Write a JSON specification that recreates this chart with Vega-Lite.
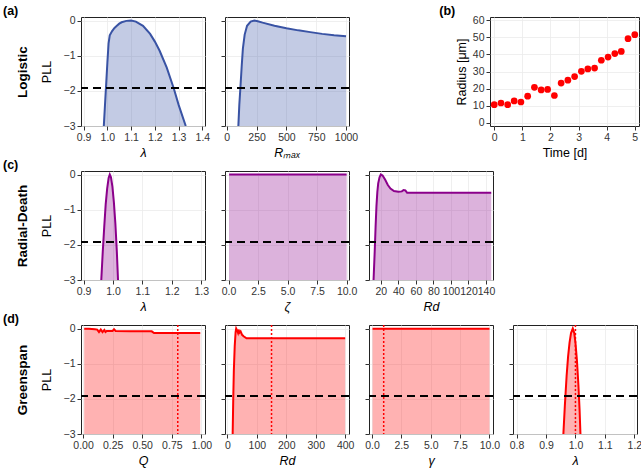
{
  "$schema": "https://vega.github.io/schema/vega-lite/v6.json",
  "padding": {"left": 2, "top": 4, "right": 2, "bottom": 2},
  "background": "white",
  "spacing": -2,
  "config": {
    "font": "Liberation Sans",
    "view": {"stroke": "#222", "strokeWidth": 1},
    "axis": {"domain": false, "tickColor": "#333", "tickSize": 4, "labelColor": "#333", "labelFontSize": 10.5, "labelFont": "Liberation Sans", "titleFont": "Liberation Sans", "titleFontSize": 12.5, "titleFontWeight": "normal", "titleColor": "#000", "gridColor": "#ebebeb", "gridWidth": 0.8, "labelPadding": 2, "titlePadding": 4, "labelOverlap": false, "labelFlush": false, "labelBound": false},
    "axisX": {"labelOverlap": false},
    "title": {"font": "Liberation Sans", "fontSize": 12.5, "fontWeight": "bold", "anchor": "start", "frame": "bounds", "offset": -2}
  },
  "vconcat": [
    {
      "bounds": "flush",
      "spacing": 20,
      "hconcat": [
        {
          "width": 124, "height": 109,
          "title": {"text": "(a)", "dx": -12},
          "data": {"values": [
            {"x": 0.985, "y": -3}, {"x": 0.99, "y": -2.4}, {"x": 0.995, "y": -1.8}, {"x": 1.0, "y": -1.2}, {"x": 1.005, "y": -0.65}, {"x": 1.01, "y": -0.42}, {"x": 1.02, "y": -0.3}, {"x": 1.03, "y": -0.21}, {"x": 1.04, "y": -0.15}, {"x": 1.05, "y": -0.09}, {"x": 1.06, "y": -0.05}, {"x": 1.08, "y": -0.01}, {"x": 1.1, "y": 0}, {"x": 1.12, "y": -0.03}, {"x": 1.15, "y": -0.15}, {"x": 1.18, "y": -0.38}, {"x": 1.2, "y": -0.6}, {"x": 1.22, "y": -0.86}, {"x": 1.25, "y": -1.34}, {"x": 1.28, "y": -1.94}, {"x": 1.3, "y": -2.4}, {"x": 1.33, "y": -3.0}
          ]},
          "layer": [
            {"mark": {"type": "area", "color": "#3953a4", "opacity": 0.3, "clip": true},
             "encoding": {
               "x": {"field": "x", "type": "quantitative", "scale": {"domain": [0.889, 1.411], "nice": false, "zero": false}, "axis": {"values": [0.9, 1.0, 1.1, 1.2, 1.3, 1.4], "format": ".1f", "labelOverlap": false, "title": "λ", "titleFontStyle": "italic"}},
               "y": {"field": "y", "type": "quantitative", "scale": {"domain": [-3, 0.1], "nice": false, "zero": false}, "axis": {"values": [-3, -2, -1, 0], "title": "PLL", "titlePadding": 10}},
               "y2": {"datum": -3}}},
            {"mark": {"type": "line", "color": "#3953a4", "strokeWidth": 2, "clip": true},
             "encoding": {"x": {"field": "x", "type": "quantitative", "axis": {"values": [0.9, 1.0, 1.1, 1.2, 1.3, 1.4], "format": ".1f", "labelOverlap": false, "title": "λ", "titleFontStyle": "italic"}}, "y": {"field": "y", "type": "quantitative", "axis": null}}},
            {"data": {"values": [{}]}, "mark": {"type": "rule", "color": "black", "strokeWidth": 2, "strokeDash": [8, 5]},
             "encoding": {"y": {"datum": -1.92, "axis": {"orient": "left", "labels": false, "ticks": false, "grid": false, "title": "Logistic", "titleFontWeight": "bold", "titleFontSize": 13.5, "titlePadding": 52}}}}
          ],
          "resolve": {"axis": {"y": "independent"}}
        },
        {
          "width": 124, "height": 109,
          "data": {"values": [
            {"x": 97, "y": -3}, {"x": 105, "y": -2.4}, {"x": 114, "y": -1.92}, {"x": 125, "y": -1.3}, {"x": 135, "y": -0.8}, {"x": 150, "y": -0.4}, {"x": 170, "y": -0.15}, {"x": 200, "y": -0.03}, {"x": 231, "y": 0}, {"x": 260, "y": -0.02}, {"x": 300, "y": -0.06}, {"x": 400, "y": -0.15}, {"x": 500, "y": -0.22}, {"x": 600, "y": -0.28}, {"x": 700, "y": -0.33}, {"x": 800, "y": -0.38}, {"x": 900, "y": -0.42}, {"x": 1000, "y": -0.45}
          ]},
          "layer": [
            {"mark": {"type": "area", "color": "#3953a4", "opacity": 0.3, "clip": true},
             "encoding": {
               "x": {"field": "x", "type": "quantitative", "scale": {"domain": [-15, 1025], "nice": false, "zero": false}, "axis": {"values": [0, 250, 500, 750, 1000], "format": "d", "labelOverlap": false, "title": "Rₘₐₓ", "titleFontStyle": "italic"}},
               "y": {"field": "y", "type": "quantitative", "scale": {"domain": [-3, 0.1], "nice": false, "zero": false}, "axis": {"values": [-3, -2, -1, 0], "labels": false, "title": null}},
               "y2": {"datum": -3}}},
            {"mark": {"type": "line", "color": "#3953a4", "strokeWidth": 2, "clip": true},
             "encoding": {"x": {"field": "x", "type": "quantitative", "axis": {"values": [0, 250, 500, 750, 1000], "format": "d", "labelOverlap": false, "title": "Rₘₐₓ", "titleFontStyle": "italic"}}, "y": {"field": "y", "type": "quantitative", "axis": null}}},
            {"data": {"values": [{}]}, "mark": {"type": "rule", "color": "black", "strokeWidth": 2, "strokeDash": [8, 5]},
             "encoding": {"y": {"datum": -1.92, "axis": null}}}
          ],
          "resolve": {"axis": {"y": "independent"}}
        },
        {
          "width": 101, "height": 109,
          "view": {"stroke": null},
          "data": {"values": [{}]},
          "mark": {"type": "point", "opacity": 0}
        },
        {
          "width": 149, "height": 109,
          "title": {"text": "(b)", "dx": -16},
          "data": {"values": [
            {"time": 0, "radius": 10.5}, {"time": 0.24, "radius": 11.5}, {"time": 0.48, "radius": 10.5}, {"time": 0.71, "radius": 12.7}, {"time": 0.95, "radius": 12.1}, {"time": 1.19, "radius": 15.5}, {"time": 1.43, "radius": 20.7}, {"time": 1.67, "radius": 19.2}, {"time": 1.9, "radius": 19.5}, {"time": 2.14, "radius": 15.9}, {"time": 2.38, "radius": 23.2}, {"time": 2.62, "radius": 24.9}, {"time": 2.86, "radius": 27.0}, {"time": 3.1, "radius": 30.1}, {"time": 3.33, "radius": 31.5}, {"time": 3.57, "radius": 32.0}, {"time": 3.81, "radius": 36.6}, {"time": 4.05, "radius": 38.5}, {"time": 4.29, "radius": 40.5}, {"time": 4.52, "radius": 41.8}, {"time": 4.76, "radius": 49.3}, {"time": 5.0, "radius": 51.6}
          ]},
          "mark": {"type": "circle", "color": "#ff0000", "size": 45, "opacity": 1},
          "encoding": {
            "x": {"field": "time", "type": "quantitative", "scale": {"domain": [-0.15, 5.15], "nice": false, "zero": false}, "axis": {"values": [0, 1, 2, 3, 4, 5], "title": "Time [d]"}},
            "y": {"field": "radius", "type": "quantitative", "scale": {"domain": [-2, 62], "nice": false, "zero": false}, "axis": {"values": [0, 10, 20, 30, 40, 50, 60], "title": "Radius [μm]"}}
          }
        }
      ]
    },
    {
      "bounds": "flush",
      "spacing": 20,
      "hconcat": [
        {
          "width": 124, "height": 109,
          "title": {"text": "(c)", "dx": -12},
          "data": {"values": [
            {"x": 0.96, "y": -3}, {"x": 0.965, "y": -2.2}, {"x": 0.97, "y": -1.5}, {"x": 0.975, "y": -0.85}, {"x": 0.98, "y": -0.4}, {"x": 0.985, "y": -0.1}, {"x": 0.989, "y": 0}, {"x": 0.993, "y": -0.08}, {"x": 0.998, "y": -0.35}, {"x": 1.003, "y": -0.8}, {"x": 1.008, "y": -1.4}, {"x": 1.013, "y": -2.2}, {"x": 1.017, "y": -3}
          ]},
          "layer": [
            {"mark": {"type": "area", "color": "#8b008b", "opacity": 0.3, "clip": true},
             "encoding": {
               "x": {"field": "x", "type": "quantitative", "scale": {"domain": [0.891, 1.313], "nice": false, "zero": false}, "axis": {"values": [0.9, 1.0, 1.1, 1.2, 1.3], "format": ".1f", "labelOverlap": false, "title": "λ", "titleFontStyle": "italic"}},
               "y": {"field": "y", "type": "quantitative", "scale": {"domain": [-3, 0.1], "nice": false, "zero": false}, "axis": {"values": [-3, -2, -1, 0], "title": "PLL", "titlePadding": 10}},
               "y2": {"datum": -3}}},
            {"mark": {"type": "line", "color": "#8b008b", "strokeWidth": 2, "clip": true},
             "encoding": {"x": {"field": "x", "type": "quantitative", "axis": {"values": [0.9, 1.0, 1.1, 1.2, 1.3], "format": ".1f", "labelOverlap": false, "title": "λ", "titleFontStyle": "italic"}}, "y": {"field": "y", "type": "quantitative", "axis": null}}},
            {"data": {"values": [{}]}, "mark": {"type": "rule", "color": "black", "strokeWidth": 2, "strokeDash": [8, 5]},
             "encoding": {"y": {"datum": -1.92, "axis": {"orient": "left", "labels": false, "ticks": false, "grid": false, "title": "Radial-Death", "titleFontWeight": "bold", "titleFontSize": 13.5, "titlePadding": 52}}}}
          ],
          "resolve": {"axis": {"y": "independent"}}
        },
        {
          "width": 124, "height": 109,
          "data": {"values": [{"x": 0.05, "y": 0}, {"x": 10, "y": 0}]},
          "layer": [
            {"mark": {"type": "area", "color": "#8b008b", "opacity": 0.3, "clip": true},
             "encoding": {
               "x": {"field": "x", "type": "quantitative", "scale": {"domain": [-0.3, 10.2], "nice": false, "zero": false}, "axis": {"values": [0, 2.5, 5, 7.5, 10], "format": ".1f", "labelOverlap": false, "title": "ζ", "titleFontStyle": "italic"}},
               "y": {"field": "y", "type": "quantitative", "scale": {"domain": [-3, 0.1], "nice": false, "zero": false}, "axis": {"values": [-3, -2, -1, 0], "labels": false, "title": null}},
               "y2": {"datum": -3}}},
            {"mark": {"type": "line", "color": "#8b008b", "strokeWidth": 2, "clip": true},
             "encoding": {"x": {"field": "x", "type": "quantitative", "axis": {"values": [0, 2.5, 5, 7.5, 10], "format": ".1f", "labelOverlap": false, "title": "ζ", "titleFontStyle": "italic"}}, "y": {"field": "y", "type": "quantitative", "axis": null}}},
            {"data": {"values": [{}]}, "mark": {"type": "rule", "color": "black", "strokeWidth": 2, "strokeDash": [8, 5]},
             "encoding": {"y": {"datum": -1.92, "axis": null}}}
          ],
          "resolve": {"axis": {"y": "independent"}}
        },
        {
          "width": 124, "height": 109,
          "data": {"values": [
            {"x": 11.7, "y": -3}, {"x": 13, "y": -2.2}, {"x": 14, "y": -1.5}, {"x": 15, "y": -0.9}, {"x": 16, "y": -0.5}, {"x": 17, "y": -0.25}, {"x": 18.5, "y": -0.08}, {"x": 20, "y": 0}, {"x": 22, "y": -0.03}, {"x": 25, "y": -0.15}, {"x": 28, "y": -0.3}, {"x": 31, "y": -0.4}, {"x": 35, "y": -0.47}, {"x": 40, "y": -0.49}, {"x": 44, "y": -0.48}, {"x": 46, "y": -0.44}, {"x": 48, "y": -0.45}, {"x": 50, "y": -0.52}, {"x": 80, "y": -0.52}, {"x": 120, "y": -0.52}, {"x": 146, "y": -0.52}
          ]},
          "layer": [
            {"mark": {"type": "area", "color": "#8b008b", "opacity": 0.3, "clip": true},
             "encoding": {
               "x": {"field": "x", "type": "quantitative", "scale": {"domain": [6.5, 148], "nice": false, "zero": false}, "axis": {"values": [20, 40, 60, 80, 100, 120, 140], "labelOverlap": false, "title": "Rd", "titleFontStyle": "italic"}},
               "y": {"field": "y", "type": "quantitative", "scale": {"domain": [-3, 0.1], "nice": false, "zero": false}, "axis": {"values": [-3, -2, -1, 0], "labels": false, "title": null}},
               "y2": {"datum": -3}}},
            {"mark": {"type": "line", "color": "#8b008b", "strokeWidth": 2, "clip": true},
             "encoding": {"x": {"field": "x", "type": "quantitative", "axis": {"values": [20, 40, 60, 80, 100, 120, 140], "labelOverlap": false, "title": "Rd", "titleFontStyle": "italic"}}, "y": {"field": "y", "type": "quantitative", "axis": null}}},
            {"data": {"values": [{}]}, "mark": {"type": "rule", "color": "black", "strokeWidth": 2, "strokeDash": [8, 5]},
             "encoding": {"y": {"datum": -1.92, "axis": null}}}
          ],
          "resolve": {"axis": {"y": "independent"}}
        }
      ]
    },
    {
      "bounds": "flush",
      "spacing": 20,
      "hconcat": [
        {
          "width": 124, "height": 109,
          "title": {"text": "(d)", "dx": -12},
          "data": {"values": [
            {"x": 0.01, "y": -0.01}, {"x": 0.05, "y": -0.01}, {"x": 0.1, "y": -0.02}, {"x": 0.12, "y": -0.03}, {"x": 0.135, "y": -0.1}, {"x": 0.15, "y": -0.03}, {"x": 0.165, "y": -0.1}, {"x": 0.18, "y": -0.04}, {"x": 0.19, "y": -0.1}, {"x": 0.2, "y": -0.07}, {"x": 0.25, "y": -0.07}, {"x": 0.262, "y": -0.02}, {"x": 0.275, "y": -0.07}, {"x": 0.4, "y": -0.08}, {"x": 0.58, "y": -0.08}, {"x": 0.6, "y": -0.13}, {"x": 0.8, "y": -0.13}, {"x": 0.99, "y": -0.13}
          ]},
          "layer": [
            {"mark": {"type": "area", "color": "#ff0000", "opacity": 0.3, "clip": true},
             "encoding": {
               "x": {"field": "x", "type": "quantitative", "scale": {"domain": [-0.017, 1.03], "nice": false, "zero": false}, "axis": {"values": [0, 0.25, 0.5, 0.75, 1], "format": ".2f", "labelOverlap": false, "title": "Q", "titleFontStyle": "italic"}},
               "y": {"field": "y", "type": "quantitative", "scale": {"domain": [-3, 0.1], "nice": false, "zero": false}, "axis": {"values": [-3, -2, -1, 0], "title": "PLL", "titlePadding": 10}},
               "y2": {"datum": -3}}},
            {"mark": {"type": "line", "color": "#ff0000", "strokeWidth": 2, "clip": true},
             "encoding": {"x": {"field": "x", "type": "quantitative", "axis": {"values": [0, 0.25, 0.5, 0.75, 1], "format": ".2f", "labelOverlap": false, "title": "Q", "titleFontStyle": "italic"}}, "y": {"field": "y", "type": "quantitative", "axis": null}}},
            {"data": {"values": [{}]}, "mark": {"type": "rule", "color": "black", "strokeWidth": 2, "strokeDash": [8, 5]},
             "encoding": {"y": {"datum": -1.92, "axis": {"orient": "left", "labels": false, "ticks": false, "grid": false, "title": "Greenspan", "titleFontWeight": "bold", "titleFontSize": 13.5, "titlePadding": 52}}}},
            {"data": {"values": [{}]}, "mark": {"type": "rule", "color": "#ff0000", "strokeWidth": 1.5, "strokeDash": [2, 2]},
             "encoding": {"x": {"datum": 0.8, "axis": {"values": [0, 0.25, 0.5, 0.75, 1], "format": ".2f", "labelOverlap": false, "title": "Q", "titleFontStyle": "italic"}}}}
          ],
          "resolve": {"axis": {"y": "independent"}}
        },
        {
          "width": 124, "height": 109,
          "data": {"values": [
            {"x": 18, "y": -3}, {"x": 20, "y": -2}, {"x": 22, "y": -1.2}, {"x": 25, "y": -0.5}, {"x": 28, "y": -0.1}, {"x": 30, "y": 0}, {"x": 33, "y": -0.05}, {"x": 36, "y": -0.12}, {"x": 38, "y": -0.03}, {"x": 41, "y": -0.12}, {"x": 45, "y": -0.08}, {"x": 50, "y": -0.18}, {"x": 55, "y": -0.22}, {"x": 65, "y": -0.28}, {"x": 100, "y": -0.28}, {"x": 200, "y": -0.28}, {"x": 300, "y": -0.28}, {"x": 400, "y": -0.28}
          ]},
          "layer": [
            {"mark": {"type": "area", "color": "#ff0000", "opacity": 0.3, "clip": true},
             "encoding": {
               "x": {"field": "x", "type": "quantitative", "scale": {"domain": [-8, 413], "nice": false, "zero": false}, "axis": {"values": [0, 100, 200, 300, 400], "labelOverlap": false, "title": "Rd", "titleFontStyle": "italic"}},
               "y": {"field": "y", "type": "quantitative", "scale": {"domain": [-3, 0.1], "nice": false, "zero": false}, "axis": {"values": [-3, -2, -1, 0], "labels": false, "title": null}},
               "y2": {"datum": -3}}},
            {"mark": {"type": "line", "color": "#ff0000", "strokeWidth": 2, "clip": true},
             "encoding": {"x": {"field": "x", "type": "quantitative", "axis": {"values": [0, 100, 200, 300, 400], "labelOverlap": false, "title": "Rd", "titleFontStyle": "italic"}}, "y": {"field": "y", "type": "quantitative", "axis": null}}},
            {"data": {"values": [{}]}, "mark": {"type": "rule", "color": "black", "strokeWidth": 2, "strokeDash": [8, 5]},
             "encoding": {"y": {"datum": -1.92, "axis": null}}},
            {"data": {"values": [{}]}, "mark": {"type": "rule", "color": "#ff0000", "strokeWidth": 1.5, "strokeDash": [2, 2]},
             "encoding": {"x": {"datum": 150, "axis": {"values": [0, 100, 200, 300, 400], "labelOverlap": false, "title": "Rd", "titleFontStyle": "italic"}}}}
          ],
          "resolve": {"axis": {"y": "independent"}}
        },
        {
          "width": 124, "height": 109,
          "data": {"values": [{"x": 0.05, "y": -0.01}, {"x": 10, "y": -0.01}]},
          "layer": [
            {"mark": {"type": "area", "color": "#ff0000", "opacity": 0.3, "clip": true},
             "encoding": {
               "x": {"field": "x", "type": "quantitative", "scale": {"domain": [-0.25, 10.3], "nice": false, "zero": false}, "axis": {"values": [0, 2.5, 5, 7.5, 10], "format": ".1f", "labelOverlap": false, "title": "γ", "titleFontStyle": "italic"}},
               "y": {"field": "y", "type": "quantitative", "scale": {"domain": [-3, 0.1], "nice": false, "zero": false}, "axis": {"values": [-3, -2, -1, 0], "labels": false, "title": null}},
               "y2": {"datum": -3}}},
            {"mark": {"type": "line", "color": "#ff0000", "strokeWidth": 2, "clip": true},
             "encoding": {"x": {"field": "x", "type": "quantitative", "axis": {"values": [0, 2.5, 5, 7.5, 10], "format": ".1f", "labelOverlap": false, "title": "γ", "titleFontStyle": "italic"}}, "y": {"field": "y", "type": "quantitative", "axis": null}}},
            {"data": {"values": [{}]}, "mark": {"type": "rule", "color": "black", "strokeWidth": 2, "strokeDash": [8, 5]},
             "encoding": {"y": {"datum": -1.92, "axis": null}}},
            {"data": {"values": [{}]}, "mark": {"type": "rule", "color": "#ff0000", "strokeWidth": 1.5, "strokeDash": [2, 2]},
             "encoding": {"x": {"datum": 1, "axis": {"values": [0, 2.5, 5, 7.5, 10], "format": ".1f", "labelOverlap": false, "title": "γ", "titleFontStyle": "italic"}}}}
          ],
          "resolve": {"axis": {"y": "independent"}}
        },
        {
          "width": 124, "height": 109,
          "data": {"values": [
            {"x": 0.959, "y": -3}, {"x": 0.964, "y": -2.2}, {"x": 0.97, "y": -1.35}, {"x": 0.975, "y": -0.8}, {"x": 0.98, "y": -0.4}, {"x": 0.985, "y": -0.13}, {"x": 0.991, "y": 0}, {"x": 0.996, "y": -0.13}, {"x": 1.0, "y": -0.4}, {"x": 1.005, "y": -0.9}, {"x": 1.01, "y": -1.6}, {"x": 1.014, "y": -2.3}, {"x": 1.017, "y": -3}
          ]},
          "layer": [
            {"mark": {"type": "area", "color": "#ff0000", "opacity": 0.3, "clip": true},
             "encoding": {
               "x": {"field": "x", "type": "quantitative", "scale": {"domain": [0.788, 1.209], "nice": false, "zero": false}, "axis": {"values": [0.8, 0.9, 1.0, 1.1, 1.2], "format": ".1f", "labelOverlap": false, "title": "λ", "titleFontStyle": "italic"}},
               "y": {"field": "y", "type": "quantitative", "scale": {"domain": [-3, 0.1], "nice": false, "zero": false}, "axis": {"values": [-3, -2, -1, 0], "labels": false, "title": null}},
               "y2": {"datum": -3}}},
            {"mark": {"type": "line", "color": "#ff0000", "strokeWidth": 2, "clip": true},
             "encoding": {"x": {"field": "x", "type": "quantitative", "axis": {"values": [0.8, 0.9, 1.0, 1.1, 1.2], "format": ".1f", "labelOverlap": false, "title": "λ", "titleFontStyle": "italic"}}, "y": {"field": "y", "type": "quantitative", "axis": null}}},
            {"data": {"values": [{}]}, "mark": {"type": "rule", "color": "black", "strokeWidth": 2, "strokeDash": [8, 5]},
             "encoding": {"y": {"datum": -1.92, "axis": null}}},
            {"data": {"values": [{}]}, "mark": {"type": "rule", "color": "#ff0000", "strokeWidth": 1.5, "strokeDash": [2, 2]},
             "encoding": {"x": {"datum": 1.0, "axis": {"values": [0.8, 0.9, 1.0, 1.1, 1.2], "format": ".1f", "labelOverlap": false, "title": "λ", "titleFontStyle": "italic"}}}}
          ],
          "resolve": {"axis": {"y": "independent"}}
        }
      ]
    }
  ]
}
